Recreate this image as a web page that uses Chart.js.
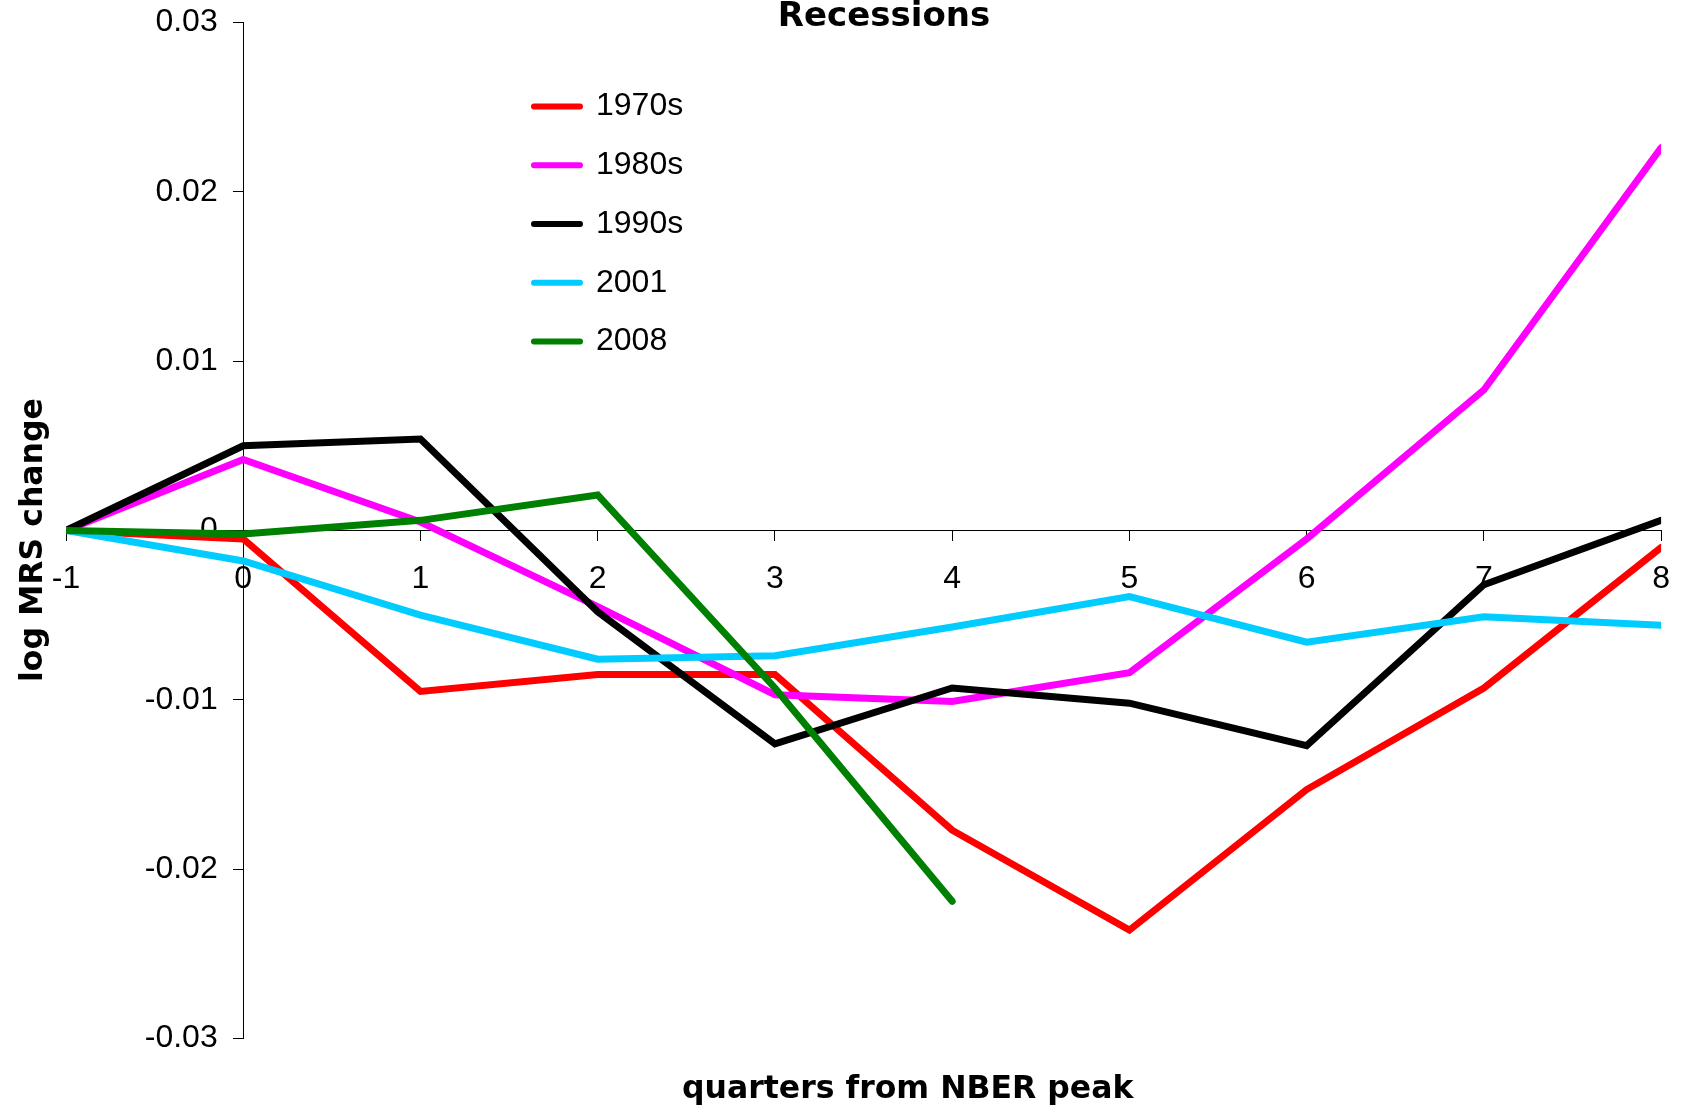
<!DOCTYPE html>
<html>
<head>
<meta charset="utf-8">
<title>Recessions</title>
<script src="https://cdn.jsdelivr.net/npm/chart.js@4.4.1/dist/chart.umd.min.js"></script>
<style>
  html, body { margin: 0; padding: 0; background: #fff; }
  #wrap { width: 1689px; height: 1108px; }
</style>
</head>
<body>
<div id="wrap"><canvas id="mrs-chart"></canvas></div>
<script>
// quarters relative to the NBER peak (x axis)
const quarters = [-1, 0, 1, 2, 3, 4, 5, 6, 7, 8];

// log MRS change, one list per recession
const mrs1970s = [0, -0.0005, -0.0095, -0.0085, -0.0085, -0.0177, -0.0236, -0.0153, -0.0093, -0.0010];
const mrs1980s = [0, 0.0042, 0.0005, -0.0045, -0.0097, -0.0101, -0.0084, -0.0005, 0.0083, 0.0226];
const mrs1990s = [0, 0.0050, 0.0054, -0.0048, -0.0126, -0.0093, -0.0102, -0.0127, -0.0032, 0.0006];
const mrs2001 = [0, -0.0018, -0.0050, -0.0076, -0.0074, -0.0057, -0.0039, -0.0066, -0.0051, -0.0056];
const mrs2008 = [0, -0.0002, 0.0006, 0.0021, -0.0093, -0.0219];

// y axis tick labels
const yTicks = [-0.03, -0.02, -0.01, 0, 0.01, 0.02, 0.03];

const chartTitle = 'Recessions';
const xTitle = 'quarters from NBER peak';
const yTitle = 'log MRS change';

const tickFont = { family: "'Liberation Sans', Arial, sans-serif", size: 32 };
const axisLine = { display: true, color: '#000', width: 1 };
const tickMarks = { drawOnChartArea: false, drawTicks: true, tickLength: 10, color: '#000', lineWidth: 1 };

function series(label, values, color, order) {
    return {
        label: label,
        data: values.map((v, i) => ({ x: quarters[i], y: v })),
        borderColor: color,
        backgroundColor: color,
        borderWidth: 7,
        borderCapStyle: 'round',
        pointRadius: 0,
        pointHoverRadius: 0,
        tension: 0,
        fill: false,
        order: order
    };
}

// legend sits inside the plot, a bit right of the y axis
const legendSpot = {
    id: 'legendSpot',
    afterLayout(chart) {
        const lg = chart.legend;
        const pad = lg.options.labels.padding;
        const w = lg.width;
        lg.left = 534 - pad;
        lg.right = lg.left + w;
        lg.top = 63.7;
        lg.bottom = chart.chartArea.bottom;
    }
};

// chart and axis titles (the axes cross inside the plot, so they are drawn here)
const titles = {
    id: 'titles',
    afterDraw(chart) {
        const ctx = chart.ctx;
        ctx.save();
        ctx.fillStyle = '#000';
        ctx.textAlign = 'center';
        ctx.textBaseline = 'alphabetic';
        ctx.font = "bold 34px 'DejaVu Sans', sans-serif";
        ctx.fillText(chartTitle, 884, 26);
        ctx.font = "bold 31.5px 'DejaVu Sans', sans-serif";
        ctx.fillText(xTitle, 907.7, 1098);
        ctx.translate(41.5, 540);
        ctx.rotate(-Math.PI / 2);
        ctx.fillText(yTitle, 0, 0);
        ctx.restore();
    }
};

const ctx = document.getElementById('mrs-chart').getContext('2d');

const mrsChart = new Chart(ctx, {
    type: 'line',
    data: {
        datasets: [
            series('1970s', mrs1970s, '#ff0000', 4),
            series('1980s', mrs1980s, '#ff00ff', 3),
            series('1990s', mrs1990s, '#000000', 2),
            series('2001', mrs2001, '#00ccff', 1),
            series('2008', mrs2008, '#008000', 0)
        ]
    },
    options: {
        responsive: true,
        maintainAspectRatio: false,
        animation: false,
        events: [],
        devicePixelRatio: 1,
        layout: {
            padding: { left: 66, right: 13, top: 22.5, bottom: 69.5 }
        },
        scales: {
            x: {
                type: 'linear',
                position: { y: 0 },
                min: -1,
                max: 8,
                afterBuildTicks: (scale) => {
                    scale.ticks = quarters.map(q => ({ value: q }));
                },
                ticks: {
                    color: '#000',
                    font: tickFont,
                    padding: 19,
                    maxRotation: 0,
                    autoSkip: false,
                    callback: (value) => String(value)
                },
                grid: tickMarks,
                border: axisLine
            },
            // the axis line and tick marks, crossing at quarter 0
            y: {
                type: 'linear',
                position: { x: 0 },
                min: -0.03,
                max: 0.03,
                afterBuildTicks: (scale) => {
                    scale.ticks = yTicks.map(v => ({ value: v }));
                },
                ticks: { display: false, padding: 0 },
                grid: tickMarks,
                border: axisLine
            },
            // the same axis' labels, set a little left of the line
            yLabels: {
                type: 'linear',
                position: { x: -0.144 },
                min: -0.03,
                max: 0.03,
                afterBuildTicks: (scale) => {
                    scale.ticks = yTicks.map(v => ({ value: v }));
                },
                ticks: {
                    color: '#000',
                    font: tickFont,
                    padding: 0,
                    callback: (value) => String(value)
                },
                grid: { display: false },
                border: { display: false }
            }
        },
        plugins: {
            title: { display: false },
            legend: {
                display: true,
                position: 'chartArea',
                align: 'start',
                labels: {
                    color: '#000',
                    font: tickFont,
                    boxWidth: 46,
                    boxHeight: 0,
                    padding: 26.75,
                    sort: (a, b) => a.datasetIndex - b.datasetIndex,
                    generateLabels: (chart) =>
                        Chart.defaults.plugins.legend.labels.generateLabels(chart)
                            .map(item => Object.assign(item, { lineJoin: 'round', lineWidth: 6 }))
                }
            },
            tooltip: { enabled: false }
        }
    },
    plugins: [legendSpot, titles]
});
</script>
</body>
</html>
